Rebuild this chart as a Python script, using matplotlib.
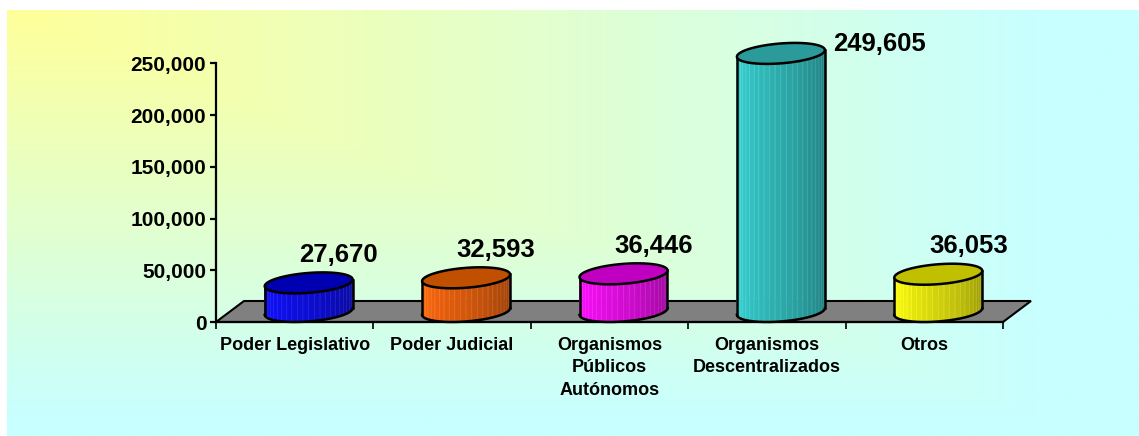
import numpy as np
import matplotlib.pyplot as plt
from matplotlib.colors import to_rgb
from matplotlib.patches import Polygon

plt.rcParams['font.family'] = ['Liberation Sans', 'DejaVu Sans']

categorias = ["Poder Legislativo", "Poder Judicial", "Organismos\nPúblicos\nAutónomos",
              "Organismos\nDescentralizados", "Otros"]
valores = [27670, 32593, 36446, 249605, 36053]
colores = ["#1010FF", "#FF6A10", "#FF10FF", "#38D0D0", "#FFFF10"]
tapas = ["#0000B0", "#C05000", "#C000C0", "#2A9A9A", "#C0C000"]
y_ticks = [0, 50000, 100000, 150000, 200000, 250000]

W, H = 1139, 436
fig = plt.figure(figsize=(W / 100, H / 100), dpi=100)

# fondo degradado (amarillo arriba-izquierda -> celeste)
bg = fig.add_axes([7 / W, 0, 1 - 7 / W, 426 / H])
U, V = np.meshgrid(np.linspace(0, 1, 500), np.linspace(0, 1, 200))
t = np.clip(np.maximum(U * 1.1, V * 1.05), 0, 1)
c0 = np.array(to_rgb("#FFFF99"))
c1 = np.array(to_rgb("#C8FFFF"))
bg.imshow(c0 + (c1 - c0) * t[..., None], aspect='auto')
bg.axis('off')

# ejes principales
ax = fig.add_axes([216 / W, 114 / H, 787 / W, 258.5 / H])
ax.set_xlim(0, 5)
ax.set_ylim(0, 250000)
ax.patch.set_alpha(0)

px_x = 787 / 5
px_y = 258.5 / 250000
DX = 28 / px_x          # profundidad en x
DY = 21 / px_y          # profundidad en y
A = 41.7 / px_x         # radio del cilindro
N = 24

# piso
ax.add_patch(Polygon([(0, 0), (5, 0), (5 + DX, DY), (DX, DY)], closed=True,
                     fc='#808080', ec='black', lw=1.5, clip_on=False, zorder=1))


def elipse(c, y, th):
    return c + A * np.cos(th) + DX / 2 * np.sin(th), y + DY / 2 * np.sin(th)


thR = np.arctan2(DX / 2, A)
th = np.linspace(thR + np.pi, thR + 2 * np.pi, N + 1)
for i, (v, col, tap) in enumerate(zip(valores, colores, tapas)):
    c = i + 0.5 + DX / 2
    y0 = DY / 2
    y1 = v + DY / 2
    xb, yb = elipse(c, y0, th)
    xt, yt = elipse(c, y1, th)
    base = np.array(to_rgb(col))
    for k in range(N):
        f = k / (N - 1)
        fac = 1.0 - 0.42 * f ** 1.2
        cc = np.clip(base * fac, 0, 1)
        ec = np.clip(cc + 0.08, 0, 1)
        ax.add_patch(Polygon([(xb[k], yb[k]), (xb[k + 1], yb[k + 1]),
                              (xt[k + 1], yt[k + 1]), (xt[k], yt[k])],
                             closed=True, fc=cc, ec=ec, lw=0.5,
                             clip_on=False, zorder=3))
    ax.plot(xb, yb, color='black', lw=1.8, clip_on=False, zorder=4)
    ax.plot([xb[0], xt[0]], [yb[0], yt[0]], color='black', lw=1.8, clip_on=False, zorder=4)
    ax.plot([xb[-1], xt[-1]], [yb[-1], yt[-1]], color='black', lw=1.8, clip_on=False, zorder=4)
    tt = np.linspace(0, 2 * np.pi, 100)
    xe, ye = elipse(c, y1, tt)
    ax.add_patch(Polygon(np.column_stack([xe, ye]), closed=True, fc=tap, ec='black',
                         lw=1.8, clip_on=False, zorder=5))

    # etiqueta de valor
    ly = y1 + 28 / px_y
    if ly > 250000:
        ax.text(c + np.hypot(A, DX / 2) + 8 / px_x, y1 + 9 / px_y, f"{v:,}",
                ha='left', va='center', fontsize=18.5, fontweight='bold',
                clip_on=False, zorder=6)
    else:
        ax.text(c + 30 / px_x, ly, f"{v:,}", ha='center', va='center',
                fontsize=18.5, fontweight='bold', clip_on=False, zorder=6)

for s in ['top', 'right']:
    ax.spines[s].set_visible(False)
ax.spines['left'].set_linewidth(1.6)
ax.spines['bottom'].set_linewidth(1.6)
ax.spines['left'].set_zorder(6)

ax.set_yticks(y_ticks)
ax.set_yticklabels([f"{y:,}" for y in y_ticks], fontsize=15, fontweight='bold')
ax.tick_params(axis='y', direction='out', length=4, width=1.6, pad=3)

ax.set_xticks(range(6))
ax.set_xticklabels([])
ax.tick_params(axis='x', which='major', direction='out', length=5, width=1.2)
ax.set_xticks(np.arange(5) + 0.5, minor=True)
ax.set_xticklabels(categorias, minor=True, fontsize=13, fontweight='bold', linespacing=1.4)
ax.tick_params(axis='x', which='minor', length=0, pad=11)

fig.savefig("out.png", dpi=100)
